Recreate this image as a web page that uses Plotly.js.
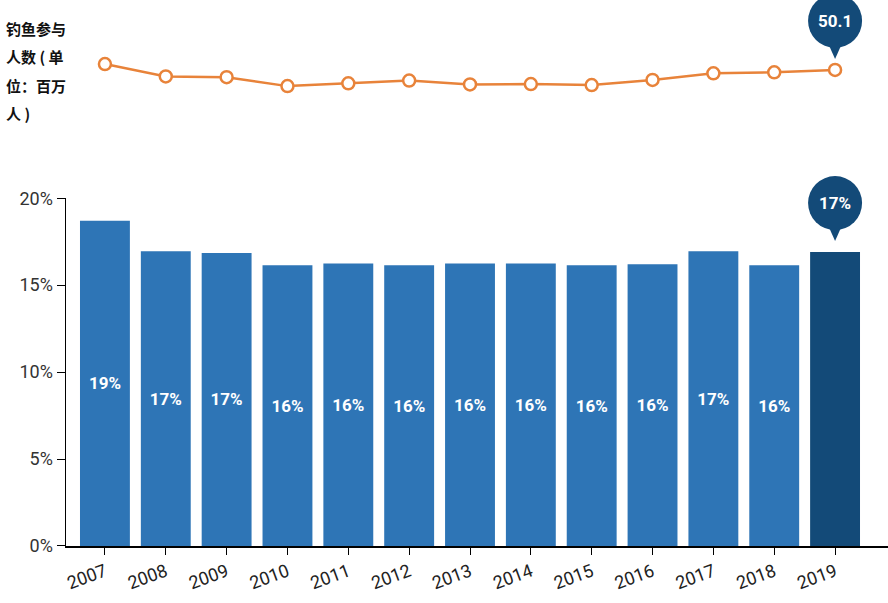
<!DOCTYPE html>
<html>
<head>
<meta charset="utf-8">
<script src="https://cdn.plot.ly/plotly-3.0.1.min.js"></script>
<style>html,body{margin:0;padding:0;background:#fff}</style>
</head>
<body>
<div id="chart" style="width:888px;height:603px"></div>
<script>
const years = ["2007","2008","2009","2010","2011","2012","2013","2014","2015","2016","2017","2018","2019"];
const participants = [51.8, 48.2, 48.0, 45.4, 46.2, 47.0, 45.9, 46.0, 45.7, 47.2, 49.1, 49.4, 50.1];
const shares = [18.7, 16.95, 16.85, 16.15, 16.25, 16.15, 16.25, 16.25, 16.15, 16.2, 16.95, 16.15, 16.9];
const shareLabels = ["19%","17%","17%","16%","16%","16%","16%","16%","16%","16%","17%","16%","17%"];
const titleLines = ["钓鱼参与", "人数 ( 单", "位：百万", "人 )"];

const last = years.length - 1;
const barColors = years.map((y, i) => i === last ? "#134a78" : "#2e75b6");
const navy = "#134a78";
const barDomain = [0, 0.637];
const barRange = [0, 20];

const bars = {
  type: "bar",
  x: years,
  y: shares,
  text: shareLabels.map((t, i) => i === last ? "" : t),
  textposition: "inside",
  insidetextanchor: "middle",
  textfont: { family: "Roboto, sans-serif", size: 17, color: "#fff", weight: "bold" },
  marker: { color: barColors },
  hoverinfo: "skip",
  xaxis: "x",
  yaxis: "y",
};

const line = {
  type: "scatter",
  mode: "lines+markers",
  x: years,
  y: participants,
  line: { color: "#e8833a", width: 2.5 },
  marker: { size: 12, color: "#fff", line: { color: "#e8833a", width: 2.5 } },
  xaxis: "x",
  yaxis: "y2",
  cliponaxis: false,
};

function bubble(yref, yval, dy) {
  return [
    {
      type: "circle", xref: "x", yref, xsizemode: "pixel", ysizemode: "pixel",
      xanchor: last, yanchor: yval,
      x0: -27, x1: 27, y0: dy - 27, y1: dy + 27,
      fillcolor: navy, line: { width: 0 },
    },
    {
      type: "path", xref: "x", yref, xsizemode: "pixel", ysizemode: "pixel",
      xanchor: last, yanchor: yval,
      path: `M -8 ${dy - 20} L 8 ${dy - 20} L 0 ${dy - 38} Z`,
      fillcolor: navy, line: { width: 0 },
    },
  ];
}

// bar bubble in paper coords so it is not clipped by the plot area
const barTopPaper = barDomain[0] + (barDomain[1] - barDomain[0]) * shares[last] / barRange[1];

const pointLabels = participants.slice(0, last).map((v, i) => ({
  xref: "x", yref: "y2", x: years[i], y: v, yshift: -25,
  text: v.toFixed(1), showarrow: false,
  font: { family: "Roboto, sans-serif", size: 18, color: "#5b6577", weight: "bold" },
}));

const titleAnns = titleLines.map((t, i) => ({
  xref: "paper", yref: "paper", x: -0.075, y: 1 - (28 + i * 28.5) / 546,
  xanchor: "left", yanchor: "middle", showarrow: false, text: t,
  font: { family: "Noto Sans CJK SC, sans-serif", size: 15, color: "#111", weight: "bold" },
}));

const layout = {
  width: 888,
  height: 603,
  margin: { l: 66, r: 0, t: 0, b: 57 },
  paper_bgcolor: "#fff",
  plot_bgcolor: "#fff",
  showlegend: false,
  bargap: 0.18,
  font: { family: "Roboto, sans-serif", color: "#222" },
  xaxis: {
    type: "category",
    range: [-0.64, 12.87],
    tickangle: -20,
    ticks: "outside",
    ticklen: 7,
    tickcolor: "#000",
    showline: true,
    linecolor: "#000",
    linewidth: 1.5,
    tickfont: { size: 18, color: "#222" },
    showgrid: false,
    anchor: "y",
  },
  yaxis: {
    domain: barDomain,
    range: barRange,
    tickvals: [0, 5, 10, 15, 20],
    ticktext: ["0%", "5%", "10%", "15%", "20%"],
    ticks: "outside",
    ticklen: 8,
    tickcolor: "#000",
    showline: true,
    linecolor: "#000",
    linewidth: 1.5,
    showgrid: false,
    zeroline: false,
    tickfont: { size: 18, color: "#333" },
  },
  yaxis2: {
    domain: [0.8, 1],
    range: [38.7, 70.4],
    visible: false,
  },
  shapes: [
    ...bubble("y2", participants[last], 49),
    ...bubble("paper", barTopPaper, 49),
  ],
  annotations: [
    ...pointLabels,
    ...titleAnns,
    {
      xref: "x", yref: "y2", x: last, y: participants[last], yshift: 49,
      text: participants[last].toFixed(1), showarrow: false,
      font: { size: 17, color: "#fff", weight: "bold" },
    },
    {
      xref: "x", yref: "paper", x: last, y: barTopPaper, yshift: 49,
      text: shareLabels[last], showarrow: false,
      font: { size: 17, color: "#fff", weight: "bold" },
    },
  ],
};

Plotly.newPlot("chart", [bars, line], layout, { displayModeBar: false, staticPlot: true });
</script>
</body>
</html>
